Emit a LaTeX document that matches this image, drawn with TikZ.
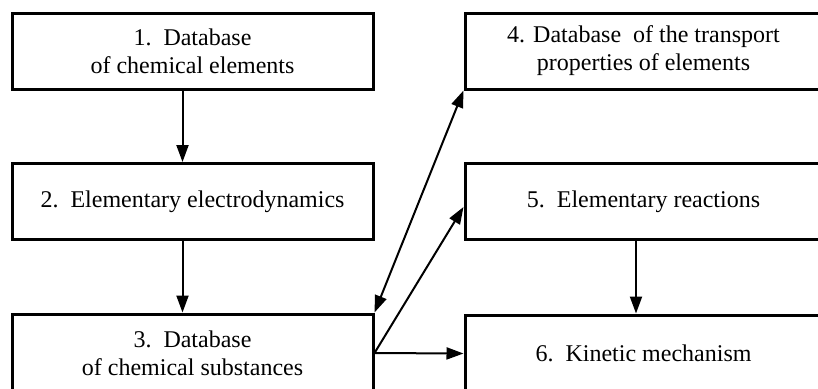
\documentclass[tikz,border=0pt]{standalone}
\usepackage{fontspec}
\setmainfont{Liberation Serif}
\usepackage{tikz}
\usetikzlibrary{arrows.meta}

\begin{document}
\begin{tikzpicture}[x=0.5pt,y=-0.5pt,>={Triangle[length=8.5pt,width=6pt]},
	box/.style={draw,line width=1.5pt,minimum width=180.5pt,minimum height=38pt,align=center,inner sep=0pt,font=\fontsize{12}{14}\selectfont},
	arr/.style={line width=1pt,->}]
			\useasboundingbox (0,0) rectangle (818,388);

			\node[box] (b1) at (192.5,51) {1.\enspace Database\\of chemical elements};
			\node[box] (b2) at (192.5,201.5) {2.\enspace Elementary electrodynamics};
			\node[box,minimum height=39pt] (b3) at (192.5,353) {3.\enspace Database\\of chemical substances};
			\node[box,minimum width=178.5pt] (b4) at (643.5,51) {4. Database\ \ of the transport\\properties of elements};
			\node[box,minimum width=178.5pt] (b5) at (643.5,201.5) {5.\enspace Elementary reactions};
			\node[box,minimum width=178.5pt,minimum height=38.5pt] (b6) at (643.5,353.5) {6.\enspace Kinetic mechanism};

			\draw[arr]  ([xshift=-5pt]b1.south)-- ([xshift=-5pt]b2.north);
			\draw[arr]  ([xshift=-5pt]b2.south)-- ([xshift=-5pt]b3.north);
			\draw[arr]  ([xshift=-3.75pt]b5.south)-- ([xshift=-3.75pt]b6.north);
			\draw[arr,<->]  (b4.south west)-- (b3.north east);
			\draw[arr]  (b3.east)-- ([yshift=-2.75pt]b5.west);
			\draw[arr]  (b3.east)-- (b6.west);
		
		\end{tikzpicture}
\end{document}
